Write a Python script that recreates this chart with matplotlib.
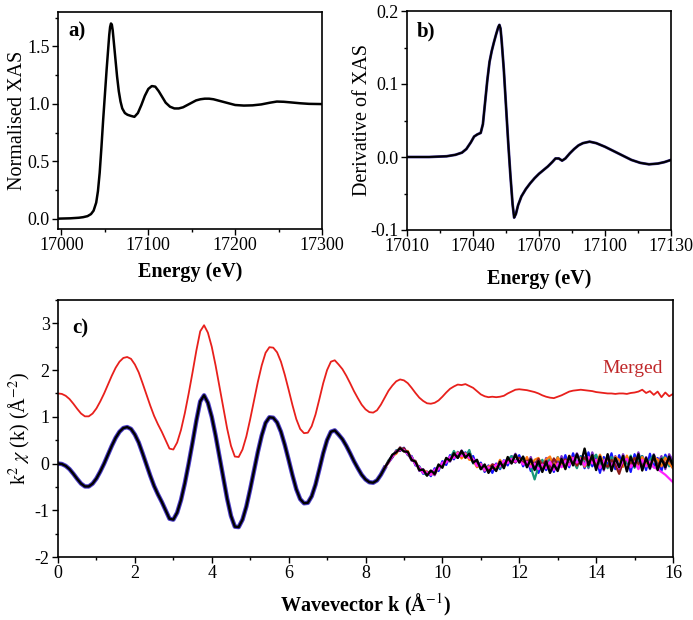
import numpy as np
import matplotlib.pyplot as plt
from matplotlib.ticker import MultipleLocator

plt.rcParams['font.family'] = ['Liberation Serif', 'DejaVu Serif']
plt.rcParams['mathtext.fontset'] = 'stix'
plt.rcParams['axes.unicode_minus'] = False

# ---- a) normalised XAS
energy_a = [16996, 17000, 17010, 17020, 17025, 17030, 17034, 17037, 17040, 17042,
            17044, 17046, 17048, 17050, 17052, 17054, 17055, 17056, 17057, 17058,
            17059, 17060, 17062, 17064, 17066, 17068, 17070, 17073, 17076, 17080,
            17084, 17088, 17092, 17096, 17100, 17104, 17108, 17112, 17116, 17120,
            17125, 17130, 17135, 17140, 17145, 17150, 17155, 17160, 17165, 17170,
            17175, 17180, 17190, 17200, 17210, 17220, 17230, 17240, 17248, 17256,
            17265, 17275, 17285, 17300]
xas = [0.000, 0.001, 0.003, 0.008, 0.013, 0.022, 0.040, 0.070, 0.140, 0.240,
       0.400, 0.620, 0.860, 1.080, 1.300, 1.500, 1.600, 1.670, 1.700, 1.690,
       1.640, 1.560, 1.400, 1.240, 1.110, 1.020, 0.960, 0.920, 0.905, 0.895,
       0.887, 0.920, 0.990, 1.070, 1.130, 1.155, 1.150, 1.110, 1.060, 1.010,
       0.975, 0.960, 0.960, 0.970, 0.990, 1.010, 1.030, 1.040, 1.045, 1.045,
       1.040, 1.030, 1.010, 0.990, 0.985, 0.987, 0.995, 1.010, 1.020, 1.018,
       1.012, 1.005, 1.000, 0.998]

# ---- b) derivative of XAS
energy_b = [17010, 17020, 17028, 17032, 17035, 17037, 17039, 17040.5, 17042, 17043.5,
            17044.5, 17045.5, 17046.5, 17047.5, 17048.5, 17049.5, 17050.5, 17051.5, 17052, 17052.5,
            17053, 17054, 17055, 17056, 17057, 17058, 17058.7, 17059.5, 17060.5, 17062,
            17064, 17066, 17068, 17070, 17072, 17074, 17076, 17077.5, 17079, 17080.5,
            17082, 17084, 17086, 17088, 17090, 17093, 17096, 17100, 17104, 17108,
            17112, 17116, 17120, 17124, 17127, 17130]
dxas = [0.000, 0.000, 0.001, 0.003, 0.006, 0.011, 0.020, 0.028, 0.031, 0.033,
        0.045, 0.075, 0.105, 0.130, 0.145, 0.157, 0.168, 0.178, 0.181, 0.176,
        0.160, 0.120, 0.070, 0.020, -0.025, -0.065, -0.083, -0.078, -0.066, -0.054,
        -0.044, -0.036, -0.029, -0.023, -0.018, -0.013, -0.007, -0.002, -0.002, -0.005,
        -0.002, 0.005, 0.011, 0.016, 0.019, 0.021, 0.019, 0.014, 0.008, 0.002,
        -0.004, -0.008, -0.010, -0.009, -0.007, -0.004]

# ---- c) k^2 chi(k)
k_lo = np.round(np.arange(0, 8.51, 0.1), 2)      # 0.0 .. 8.5
k_hi = np.round(np.arange(8.6, 16.01, 0.1), 2)   # 8.6 .. 16.0

# all scans coincide below 8.5
chi_lo = [0.00, -0.01, -0.05, -0.12, -0.22, -0.33, -0.43, -0.49, -0.49, -0.43,
          -0.32, -0.17, 0.00, 0.19, 0.38, 0.55, 0.68, 0.76, 0.78, 0.74,
          0.62, 0.45, 0.22, -0.02, -0.26, -0.48, -0.66, -0.82, -1.00, -1.18,
          -1.20, -1.05, -0.78, -0.42, 0.00, 0.45, 0.92, 1.33, 1.46, 1.30,
          1.00, 0.60, 0.15, -0.30, -0.75, -1.12, -1.35, -1.36, -1.20, -0.92,
          -0.55, -0.15, 0.25, 0.60, 0.87, 0.99, 0.98, 0.88, 0.68, 0.40,
          0.08, -0.25, -0.55, -0.76, -0.85, -0.84, -0.70, -0.45, -0.12, 0.22,
          0.50, 0.68, 0.71, 0.62, 0.52, 0.38, 0.22, 0.05, -0.10, -0.24,
          -0.34, -0.40, -0.41, -0.36, -0.24, -0.09]

scan_black = [0.04, 0.19, 0.24, 0.33, 0.26, 0.25, 0.08, 0.04, -0.14, -0.13,
              -0.26, -0.15, -0.22, -0.02, -0.09, 0.12, 0.06, 0.22, 0.12, 0.27,
              0.13, 0.21, 0.02, 0.08, -0.12, -0.02, -0.20, -0.06, -0.16, 0.04,
              -0.10, 0.14, 0.00, 0.19, 0.02, 0.15, -0.08, 0.09, -0.14, 0.05,
              -0.18, 0.04, -0.20, -0.02, -0.16, 0.10, -0.12, 0.16, -0.04, 0.20,
              -0.02, 0.32, -0.04, 0.18, -0.14, 0.15, -0.12, 0.20, -0.16, 0.12,
              -0.08, 0.16, -0.17, 0.14, -0.06, 0.20, -0.15, 0.12, -0.10, 0.18,
              -0.14, 0.10, -0.08, 0.15, -0.04]
scan_blue = [0.02, 0.13, 0.28, 0.27, 0.34, 0.18, 0.16, -0.04, -0.06, -0.22,
             -0.17, -0.27, -0.10, -0.16, 0.05, -0.03, 0.18, 0.09, 0.25, 0.15,
             0.24, 0.10, 0.16, -0.06, 0.02, -0.18, -0.04, -0.20, 0.00, -0.12,
             0.07, -0.04, 0.16, 0.02, 0.18, -0.06, 0.12, -0.16, 0.04, -0.20,
             0.02, -0.14, 0.06, -0.18, 0.10, -0.06, 0.18, -0.08, 0.22, -0.02,
             0.16, -0.10, 0.24, -0.06, 0.12, -0.20, 0.14, -0.04, 0.22, -0.12,
             0.18, -0.06, 0.10, -0.18, 0.20, -0.02, 0.16, -0.14, 0.21, -0.08,
             0.12, -0.16, 0.19, 0.02, -0.10]
scan_purple = [0.06, 0.18, 0.22, 0.35, 0.27, 0.22, 0.06, 0.06, -0.16, -0.12,
               -0.24, -0.18, -0.25, -0.06, -0.01, 0.09, 0.04, 0.24, 0.14, 0.28,
               0.16, 0.26, 0.05, 0.01, -0.10, -0.08, -0.16, -0.02, -0.12, 0.06,
               -0.06, 0.10, 0.04, 0.21, 0.06, 0.12, -0.04, 0.14, -0.10, 0.09,
               -0.14, 0.12, -0.16, 0.06, -0.12, 0.16, -0.06, 0.10, 0.02, 0.22,
               0.04, 0.14, -0.10, 0.24, -0.02, 0.10, -0.15, 0.18, 0.00, 0.16,
               -0.12, 0.20, 0.02, 0.12, -0.08, 0.24, -0.04, 0.14, -0.12, 0.20,
               0.00, 0.16, -0.12, 0.20, 0.06]
scan_magenta = [0.03, 0.15, 0.26, 0.30, 0.29, 0.20, 0.14, -0.02, -0.08, -0.20,
                -0.19, -0.24, -0.13, -0.12, 0.02, 0.02, 0.15, 0.12, 0.22, 0.16,
                0.20, 0.12, 0.10, -0.05, -0.02, -0.14, -0.08, -0.12, -0.02, -0.06,
                0.06, 0.01, 0.10, 0.04, 0.08, -0.02, 0.04, -0.08, 0.00, -0.12,
                -0.02, -0.10, 0.04, -0.14, 0.00, -0.08, 0.06, -0.04, 0.12, 0.02,
                0.10, -0.04, 0.14, 0.00, 0.08, -0.10, 0.06, 0.12, -0.06, 0.08,
                -0.10, 0.06, 0.10, -0.08, 0.04, -0.12, 0.08, -0.06, 0.04, -0.08,
                -0.12, -0.18, -0.24, -0.32, -0.40]
scan_teal = [0.07, 0.15, 0.28, 0.31, 0.32, 0.19, 0.15, -0.01, -0.07, -0.19,
             -0.25, -0.17, -0.20, -0.08, -0.03, 0.06, 0.10, 0.27, 0.12, 0.22,
             0.14, 0.29, 0.00, 0.04, -0.12, -0.10, -0.14, -0.03, -0.06, -0.10,
             0.04, 0.08, 0.16, 0.05, 0.06, 0.12, 0.04, -0.08, -0.34, -0.06,
             0.08, -0.08, 0.12, -0.10, 0.14, -0.02, -0.06, 0.13, 0.06, -0.10,
             0.15, 0.02, -0.08, 0.10, 0.19, -0.04, 0.09, -0.10, 0.14, 0.02,
             -0.06, 0.13, 0.00, 0.17, -0.09, 0.11, 0.16, -0.07, 0.08, 0.18,
             -0.04, 0.10, 0.14, -0.06, 0.06]
scan_orange = [0.02, 0.16, 0.21, 0.34, 0.26, 0.27, 0.09, 0.05, -0.13, -0.14,
               -0.18, -0.24, -0.17, -0.11, -0.03, 0.04, 0.12, 0.13, 0.24, 0.11,
               0.22, 0.08, 0.07, -0.08, -0.01, -0.15, -0.06, -0.04, -0.10, 0.08,
               -0.07, 0.11, 0.02, 0.16, 0.08, -0.01, 0.14, -0.06, 0.08, 0.12,
               -0.06, 0.09, 0.15, -0.08, 0.13, 0.00, -0.10, 0.17, 0.08, -0.04,
               0.12, -0.07, 0.10, 0.16, -0.05, 0.19, 0.00, 0.11, -0.09, 0.14,
               0.08, -0.07, 0.17, -0.01, 0.12, -0.10, 0.14, 0.00, -0.08, 0.13,
               0.09, -0.06, 0.12, 0.00, -0.10]
scan_darkred = [0.05, 0.14, 0.27, 0.28, 0.33, 0.21, 0.10, 0.00, -0.09, -0.18,
                -0.22, -0.16, -0.23, -0.05, -0.06, 0.08, 0.08, 0.19, 0.13, 0.25,
                0.12, 0.20, 0.03, 0.03, -0.10, -0.05, -0.14, -0.02, -0.04, -0.01,
                -0.02, 0.07, 0.05, 0.03, 0.12, 0.02, 0.05, 0.09, -0.04, 0.10,
                -0.03, 0.06, -0.07, 0.11, -0.01, 0.02, 0.09, -0.02, 0.13, -0.04,
                0.08, 0.12, -0.02, 0.09, -0.06, 0.11, 0.00, -0.07, 0.08, -0.03,
                -0.22, 0.04, 0.10, -0.05, 0.12, 0.00, -0.08, 0.09, -0.02, 0.11,
                -0.04, 0.08, 0.00, 0.10, -0.03]
merged_hi = [0.06, 0.17, 0.26, 0.30, 0.28, 0.22, 0.12, 0.01, -0.09, -0.16,
             -0.21, -0.22, -0.20, -0.15, -0.07, 0.02, 0.10, 0.15, 0.19, 0.18,
             0.20, 0.16, 0.12, 0.05, -0.02, -0.06, -0.08, -0.07, -0.08, -0.07,
             -0.05, 0.00, 0.04, 0.08, 0.09, 0.08, 0.07, 0.05, 0.03, 0.00,
             -0.04, -0.07, -0.09, -0.10, -0.07, -0.04, 0.00, 0.04, 0.06, 0.07,
             0.08, 0.07, 0.06, 0.05, 0.03, 0.02, 0.01, 0.00, 0.00, -0.01,
             0.00, 0.00, -0.01, 0.01, 0.02, 0.04, 0.08, 0.01, 0.05, -0.03,
             0.04, -0.08, 0.02, -0.06, -0.01]
merged_offset = 1.5

scans = [(scan_blue, '#1414ff'), (scan_purple, '#7a2fc0'), (scan_teal, '#17977a'),
         (scan_orange, '#ff7a12'), (scan_darkred, '#8b1a1a'), (scan_magenta, '#ff22ff')]

fig = plt.figure(figsize=(6.93, 6.2), dpi=100)
ax_a = fig.add_axes([58 / 693, 391 / 620, 264 / 693, 217 / 620])
ax_b = fig.add_axes([407 / 693, 390 / 620, 264 / 693, 219 / 620])
ax_c = fig.add_axes([58 / 693, 63 / 620, 615 / 693, 257 / 620])


def style(ax):
    for sp in ax.spines.values():
        sp.set_linewidth(1.2)
    ax.tick_params(which='both', direction='out', top=False, right=False,
                   labelsize=13, pad=2, width=1.0)
    ax.tick_params(which='major', length=4)
    ax.tick_params(which='minor', length=2.5)


# a)
ax_a.plot(energy_a, xas, color='black', lw=1.8)
ax_a.set_xlim(16996, 17300)
ax_a.set_ylim(-0.09, 1.8)
ax_a.xaxis.set_major_locator(MultipleLocator(100))
ax_a.xaxis.set_minor_locator(MultipleLocator(50))
ax_a.yaxis.set_major_locator(MultipleLocator(0.5))
ax_a.yaxis.set_minor_locator(MultipleLocator(0.25))
ax_a.yaxis.set_major_formatter('{x:.1f}')
style(ax_a)
ax_a.set_xlabel('Energy (eV)', fontsize=14.5, fontweight='bold', va='center')
ax_a.xaxis.set_label_coords(0.5, -0.198)
ax_a.set_ylabel('Normalised XAS', fontsize=14.5, va='center')
ax_a.yaxis.set_label_coords(-0.155, 0.5)
ax_a.text(0.038, 0.955, 'a)', transform=ax_a.transAxes, fontsize=15,
          fontweight='bold', va='top')

# b)
ax_b.plot(energy_b, dxas, color='#3a2c8c', lw=2.0)
ax_b.plot(energy_b, dxas, color='black', lw=1.4)
ax_b.set_xlim(17010, 17130)
ax_b.set_ylim(-0.1, 0.2)
ax_b.xaxis.set_major_locator(MultipleLocator(30))
ax_b.xaxis.set_minor_locator(MultipleLocator(15))
ax_b.yaxis.set_major_locator(MultipleLocator(0.1))
ax_b.yaxis.set_minor_locator(MultipleLocator(0.05))
ax_b.yaxis.set_major_formatter('{x:.1f}')
style(ax_b)
ax_b.set_xlabel('Energy (eV)', fontsize=14.5, fontweight='bold', va='center')
ax_b.xaxis.set_label_coords(0.5, -0.224)
ax_b.set_ylabel('Derivative of XAS', fontsize=14.5, va='center')
ax_b.yaxis.set_label_coords(-0.17, 0.5)
ax_b.text(0.038, 0.95, 'b)', transform=ax_b.transAxes, fontsize=15,
          fontweight='bold', va='top')

# c)
ax_c.plot(k_lo, chi_lo, color='#4b3cc8', lw=3.2)
for vals, col in scans:
    ax_c.plot(np.r_[k_lo[-1], k_hi], np.r_[chi_lo[-1], vals], color=col, lw=1.6)
ax_c.plot(np.r_[k_lo, k_hi], np.r_[chi_lo, scan_black], color='black', lw=1.7)
ax_c.plot(np.r_[k_lo, k_hi], np.r_[chi_lo, merged_hi] + merged_offset,
          color='#e8201c', lw=1.3)
ax_c.set_xlim(0, 16)
ax_c.set_ylim(-2, 3.5)
ax_c.xaxis.set_major_locator(MultipleLocator(2))
ax_c.xaxis.set_minor_locator(MultipleLocator(1))
ax_c.yaxis.set_major_locator(MultipleLocator(1))
ax_c.yaxis.set_minor_locator(MultipleLocator(0.5))
style(ax_c)
ax_c.set_xlabel('Wavevector k (Å$^{-1}$)', fontsize=14.5, fontweight='bold', va='center')
ax_c.xaxis.set_label_coords(0.5, -0.187)
ax_c.set_ylabel(r'k$^2$ $\chi$ (k) (Å$^{-2}$)', fontsize=14.5, va='center')
ax_c.yaxis.set_label_coords(-0.063, 0.5)
ax_c.text(0.023, 0.93, 'c)', transform=ax_c.transAxes, fontsize=15,
          fontweight='bold', va='top')
ax_c.text(0.935, 0.735, 'Merged', transform=ax_c.transAxes, fontsize=14,
          color='#c0282a', ha='center', va='center')

fig.savefig('out.png', dpi=100)
